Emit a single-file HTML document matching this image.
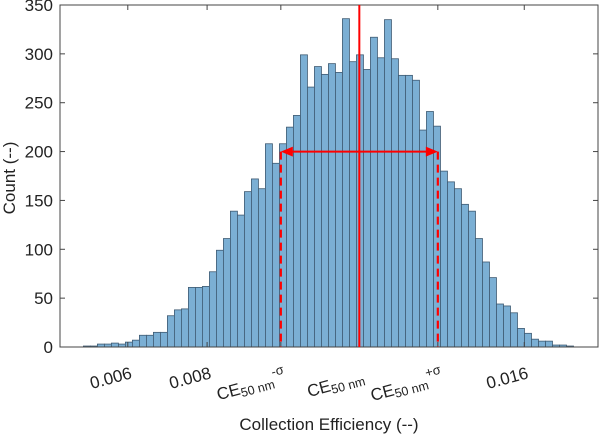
<!DOCTYPE html>
<html><head><meta charset="utf-8"><style>
html,body{margin:0;padding:0;background:#fff;}
svg{display:block;font-family:"Liberation Sans",sans-serif;}
</style></head><body>
<svg id="chart" width="600" height="436"></svg>
<script>
const counts=[1,1,3,3,4,3,5,7,12,12,15,15,32,38,39,61,61,62,77,99,111,139,135,159,172,162,208,188,208,225,237,299,266,287,279,290,281,336,292,299,284,317,296,335,295,278,278,273,222,241,226,180,169,162,146,139,111,87,71,44,42,35,19,14,8,6,6,2,2,1];
const binStart=[0.00488];
const binWidth=[0.0001766];
const yTicks=[0,50,100,150,200,250,300,350];
const xTickVals=[0.006,0.008,0.016];
const xTickLabels=["0.006","0.008","0.016"];
const ceMean=[0.01184];
const ceSigma=[0.00198];
const arrowCount=[200];

const L=60,R=598,T=5,B=347;
const xMin=0.00429,xMax=0.01786,yMax=350;
const X=v=>L+(v-xMin)/(xMax-xMin)*(R-L);
const Y=c=>B-c/yMax*(B-T);
const svg=document.getElementById('chart');
const NS='http://www.w3.org/2000/svg';
function mk(tag,attrs,parent){const e=document.createElementNS(NS,tag);for(const k in attrs)e.setAttribute(k,attrs[k]);(parent||svg).appendChild(e);return e;}

const gb=mk('g',{});


counts.forEach((c,i)=>{
  const x0=X(binStart[0]+i*binWidth[0]),x1=X(binStart[0]+(i+1)*binWidth[0]);
  const r=mk('rect',{x:x0,y:Y(c),width:x1-x0,height:Y(0)-Y(c),fill:'#7bafd4',stroke:'#3e5a72','stroke-width':0.8},gb);
  
  
});

const box=mk('rect',{x:L,y:T,width:R-L,height:B-T,fill:'none',stroke:'#444','stroke-width':1});



yTicks.forEach(t=>{
  const y=Y(t);
  mk('line',{x1:L,x2:L+5,y1:y,y2:y,stroke:'#444'});
  mk('line',{x1:R,x2:R-5,y1:y,y2:y,stroke:'#444'});
  const tx=mk('text',{x:53,y:y+6,'text-anchor':'end','font-size':17,fill:'#222'});
  tx.textContent=t;
  
  
});

const allTicks=[];
xTickVals.forEach((v,i)=>allTicks.push({v:v,lab:xTickLabels[i],ce:null}));
allTicks.push({v:ceMean[0]-ceSigma[0],ce:'-σ'});
allTicks.push({v:ceMean[0],ce:''});
allTicks.push({v:ceMean[0]+ceSigma[0],ce:'+σ'});
allTicks.forEach(t=>{
  const x=X(t.v);
  mk('line',{x1:x,x2:x,y1:B,y2:B-5,stroke:'#444'});
  mk('line',{x1:x,x2:x,y1:T,y2:T+5,stroke:'#444'});
  let tx;
  if(t.ce===null){
    tx=mk('text',{transform:`translate(${x+5},378) rotate(-15)`,'text-anchor':'end','font-size':17,fill:'#222'});
    tx.textContent=t.lab;
  } else {
    tx=mk('text',{transform:`translate(${x+6},382) rotate(-15)`,'text-anchor':'end','font-size':17,fill:'#222'});
    const a=mk('tspan',{},tx);a.textContent='CE';
    const b=mk('tspan',{'font-size':12.5,dy:3},tx);b.textContent='50 nm';
    if(t.ce){const c=mk('tspan',{'font-size':13,dy:-12},tx);c.textContent=t.ce;}
  }
  
  
});

const xm=X(ceMean[0]),xl=X(ceMean[0]-ceSigma[0]),xr=X(ceMean[0]+ceSigma[0]),ya=Y(arrowCount[0]);
const ml=mk('line',{x1:xm,x2:xm,y1:T,y2:B,stroke:'#f00','stroke-width':2});


[xl,xr].forEach(x=>{
  const d=mk('line',{x1:x,x2:x,y1:ya,y2:B,stroke:'#f00','stroke-width':2.2,'stroke-dasharray':'8,5'});
  
  
});
const ar=mk('line',{x1:xl+10,x2:xr-10,y1:ya,y2:ya,stroke:'#f00','stroke-width':2});


mk('polygon',{points:`${xl},${ya} ${xl+12},${ya-5} ${xl+12},${ya+5}`,fill:'#f00'});
mk('polygon',{points:`${xr},${ya} ${xr-12},${ya-5} ${xr-12},${ya+5}`,fill:'#f00'});

const xt=mk('text',{x:329,y:430,'text-anchor':'middle','font-size':17,fill:'#222'});
xt.textContent='Collection Efficiency (--)';


const yt=mk('text',{transform:'translate(15,178) rotate(-90)','text-anchor':'middle','font-size':17,fill:'#222'});
yt.textContent='Count (--)';


</script>
</body></html>
